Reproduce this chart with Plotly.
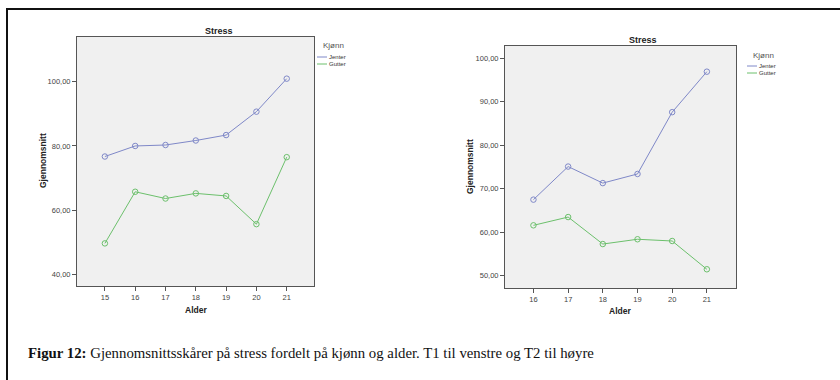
import plotly.graph_objects as go

W, H = 840, 380

# ---- data ----
ages_t1 = [15, 16, 17, 18, 19, 20, 21]
jenter_t1 = [76.7, 80.0, 80.3, 81.7, 83.4, 90.7, 101.0]
gutter_t1 = [49.6, 65.7, 63.6, 65.2, 64.4, 55.6, 76.5]

ages_t2 = [16, 17, 18, 19, 20, 21]
jenter_t2 = [67.5, 75.1, 71.3, 73.4, 87.6, 96.9]
gutter_t2 = [61.6, 63.5, 57.3, 58.4, 58.0, 51.5]

yticks_t1 = [40, 60, 80, 100]
yticks_t2 = [50, 60, 70, 80, 90, 100]
series_names = ["Jenter", "Gutter"]
legend_title = "Kjønn"
chart_title = "Stress"
x_title = "Alder"
y_title = "Gjennomsnitt"
caption_bold = "Figur 12:"
caption_text = " Gjennomsnittsskårer på stress fordelt på kjønn og alder. T1 til venstre og T2 til høyre"

C_J = "#7F88C8"
C_G = "#6CC06C"


def fx(px):
    return px / W


def fy(py):
    return 1 - py / H


def lab(v):
    return f"{v:.2f}".replace(".", ",")


fig = go.Figure()

for name, vals, col in [(series_names[0], jenter_t1, C_J), (series_names[1], gutter_t1, C_G)]:
    fig.add_trace(go.Scatter(x=ages_t1, y=vals, mode="lines+markers", name=name,
                             line=dict(color=col, width=1),
                             marker=dict(symbol="circle-open", size=5.5, color=col, line=dict(width=1)),
                             xaxis="x", yaxis="y", showlegend=False))
for name, vals, col in [(series_names[0], jenter_t2, C_J), (series_names[1], gutter_t2, C_G)]:
    fig.add_trace(go.Scatter(x=ages_t2, y=vals, mode="lines+markers", name=name,
                             line=dict(color=col, width=1),
                             marker=dict(symbol="circle-open", size=5.5, color=col, line=dict(width=1)),
                             xaxis="x2", yaxis="y2", showlegend=False))

axis_common = dict(showline=True, mirror=True, linecolor="#555555", linewidth=1,
                   ticks="outside", ticklen=4, tickcolor="#555555", showgrid=False,
                   zeroline=False, tickfont=dict(family="Liberation Sans", size=7.5, color="#444444"))

fig.update_layout(
    width=W, height=H,
    margin=dict(l=0, r=0, t=0, b=0),
    paper_bgcolor="white",
    plot_bgcolor="#F0F0F0",
    xaxis=dict(domain=[fx(77), fx(314)], range=[14.08, 21.9], anchor="y",
               tickvals=ages_t1, ticktext=[str(a) for a in ages_t1], **axis_common),
    yaxis=dict(domain=[fy(286), fy(37)], range=[36.3, 114], anchor="x",
               tickvals=yticks_t1, ticktext=[lab(v) for v in yticks_t1], **axis_common),
    xaxis2=dict(domain=[fx(505), fx(736)], range=[15.18, 21.84], anchor="y2",
                tickvals=ages_t2, ticktext=[str(a) for a in ages_t2], **axis_common),
    yaxis2=dict(domain=[fy(288), fy(46)], range=[47.2, 102.8], anchor="x2",
                tickvals=yticks_t2, ticktext=[lab(v) for v in yticks_t2], **axis_common),
    showlegend=False,
)

ann = []
shapes = []

# outer frame
shapes.append(dict(type="rect", xref="paper", yref="paper", x0=fx(7), x1=fx(850), y0=fy(390), y1=fy(9),
                   line=dict(color="#111111", width=2), fillcolor="rgba(0,0,0,0)"))

# titles
for cx, cy in [(219, 31), (643, 40)]:
    ann.append(dict(text=f"<b>{chart_title}</b>", x=fx(cx), y=fy(cy), xref="paper", yref="paper",
                    showarrow=False, xanchor="center", yanchor="middle",
                    font=dict(family="Liberation Sans", size=9, color="#222222")))
# x titles
for cx, cy in [(196, 310), (620, 311)]:
    ann.append(dict(text=f"<b>{x_title}</b>", x=fx(cx), y=fy(cy), xref="paper", yref="paper",
                    showarrow=False, xanchor="center", yanchor="middle",
                    font=dict(family="Liberation Sans", size=8.5, color="#222222")))
# y titles
for cx, cy in [(43, 161), (470, 167)]:
    ann.append(dict(text=f"<b>{y_title}</b>", x=fx(cx), y=fy(cy), xref="paper", yref="paper",
                    showarrow=False, xanchor="center", yanchor="middle", textangle=-90,
                    font=dict(family="Liberation Sans", size=8.5, color="#222222")))

# legends
for lx, ty, y1, y2 in [(317, 45, 57, 64), (747, 55, 66, 73)]:
    ann.append(dict(text=legend_title, x=fx(lx + 4), y=fy(ty), xref="paper", yref="paper",
                    showarrow=False, xanchor="left", yanchor="middle",
                    font=dict(family="Liberation Sans", size=8, color="#555555")))
    for yy, nm, col in [(y1, series_names[0], C_J), (y2, series_names[1], C_G)]:
        shapes.append(dict(type="line", xref="paper", yref="paper", x0=fx(lx), x1=fx(lx + 10),
                           y0=fy(yy), y1=fy(yy), line=dict(color=col, width=1)))
        ann.append(dict(text=nm, x=fx(lx + 10), y=fy(yy), xref="paper", yref="paper",
                        showarrow=False, xanchor="left", yanchor="middle",
                        font=dict(family="Liberation Sans", size=6, color="#333333")))

# caption
ann.append(dict(text=f"<b>{caption_bold}</b>{caption_text}", x=fx(26), y=fy(353), xref="paper", yref="paper",
                showarrow=False, xanchor="left", yanchor="middle",
                font=dict(family="Liberation Serif", size=14.8, color="#111111")))

fig.update_layout(annotations=ann, shapes=shapes)
fig.write_html("out.html")
